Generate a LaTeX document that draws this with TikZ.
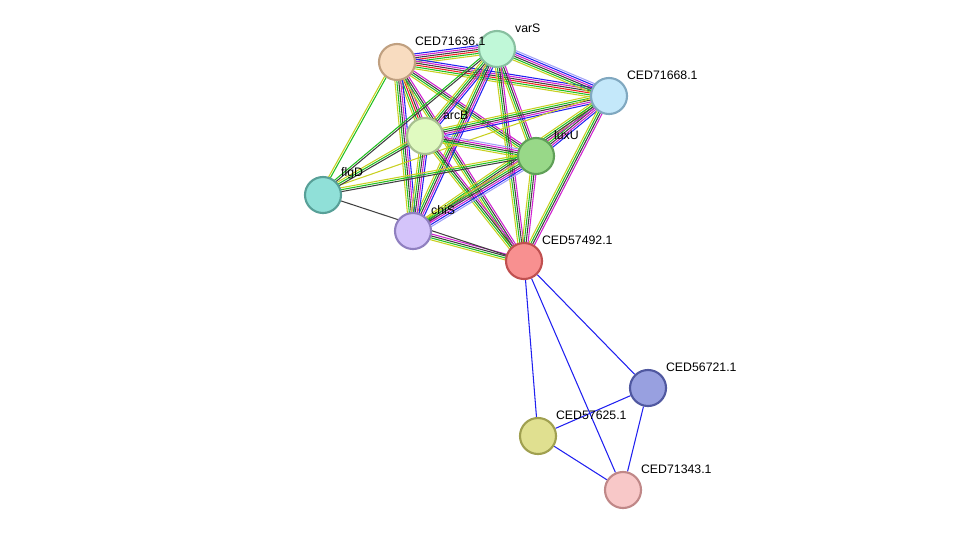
\documentclass[tikz,border=0pt]{standalone}
\usepackage{fontspec}
\setmainfont{Liberation Sans}
\usetikzlibrary{calc,backgrounds}
\definecolor{etxt}{HTML}{C8D020}
\definecolor{egrn}{HTML}{20C020}
\definecolor{eblk}{HTML}{404040}
\definecolor{emag}{HTML}{D020D0}
\definecolor{eblu}{HTML}{2020F0}
\definecolor{elbl}{HTML}{A0A0F8}
\definecolor{ered}{HTML}{F02020}
% node fill / border pairs
\definecolor{fA}{HTML}{F8DCC0}\definecolor{dA}{HTML}{C0A080}
\definecolor{fV}{HTML}{C0F8D8}\definecolor{dV}{HTML}{88C0A0}
\definecolor{fO}{HTML}{C4E8FA}\definecolor{dO}{HTML}{80A8C0}
\definecolor{fR}{HTML}{E0FAC0}\definecolor{dR}{HTML}{A8C090}
\definecolor{fL}{HTML}{98D888}\definecolor{dL}{HTML}{60A058}
\definecolor{fF}{HTML}{90E0D8}\definecolor{dF}{HTML}{58A098}
\definecolor{fC}{HTML}{D4C4FA}\definecolor{dC}{HTML}{9080C0}
\definecolor{fP}{HTML}{F89090}\definecolor{dP}{HTML}{C05050}
\definecolor{fB}{HTML}{98A0E0}\definecolor{dB}{HTML}{5058A0}
\definecolor{fK}{HTML}{E0E090}\definecolor{dK}{HTML}{A0A050}
\definecolor{fN}{HTML}{F8C8C8}\definecolor{dN}{HTML}{C08888}
\tikzset{
  prot/.style={circle, draw, line width=1.2pt, minimum size=20.5pt, inner sep=0pt},
  lbl/.style={font=\fontsize{7}{8}\selectfont, anchor=south west, inner sep=1pt},
}
% one line per evidence channel, side by side
\newcommand{\sedge}[3]{%
  \foreach \col [count=\k] in {#3} {%
    \pgfmathsetmacro\off{(\k-3)*1.1}
    \draw[\col, line width=0.6pt] ($(#1)!\off pt!90:(#2)$) -- ($(#2)!\off pt!-90:(#1)$);
  }}
\begin{document}
\begin{tikzpicture}[x=0.02cm, y=-0.02cm]
\useasboundingbox (0,0) rectangle (976,535);
%Nodes
\node[prot, fill=fA, draw=dA] (a71636) at (397,62) {};
\node[prot, fill=fV, draw=dV] (vars) at (497,49) {};
\node[prot, fill=fO, draw=dO] (a71668) at (609,96) {};
\node[prot, fill=fR, draw=dR] (arcb) at (425,136) {};
\node[prot, fill=fL, draw=dL] (luxu) at (536,156) {};
\node[prot, fill=fF, draw=dF] (flgd) at (323,195) {};
\node[prot, fill=fC, draw=dC] (chis) at (413,231) {};
\node[prot, fill=fP, draw=dP] (a57492) at (524,261) {};
\node[prot, fill=fB, draw=dB] (a56721) at (648,388) {};
\node[prot, fill=fK, draw=dK] (a57625) at (538,436) {};
\node[prot, fill=fN, draw=dN] (a71343) at (623,490) {};

%Labels
\node[lbl] at (413,48) {CED71636.1};
\node[lbl] at (513,35) {varS};
\node[lbl] at (625,82) {CED71668.1};
\node[lbl] at (441,122) {arcB};
\node[lbl] at (552,142) {luxU};
\node[lbl] at (339,181) {flgD};
\node[lbl] at (429,217) {chiS};
\node[lbl] at (540,247) {CED57492.1};
\node[lbl] at (664,374) {CED56721.1};
\node[lbl] at (554,422) {CED57625.1};
\node[lbl] at (639,476) {CED71343.1};

%Edges
\begin{scope}[on background layer]
\sedge{a71636}{vars}{etxt,egrn,ered,eblk,emag,eblu}
\sedge{a71636}{a71668}{etxt,egrn,ered,eblk,emag,eblu}
\sedge{a71636}{arcb}{etxt,egrn,ered,eblk,emag}
\sedge{a71636}{luxu}{etxt,egrn,eblk,emag}
\sedge{a71636}{chis}{etxt,egrn,eblk,emag,eblu}
\sedge{a71636}{a57492}{etxt,egrn,eblk,emag}
\sedge{a71636}{flgd}{etxt,egrn}
\sedge{vars}{a71668}{etxt,egrn,eblk,emag,eblu,elbl}
\sedge{vars}{arcb}{etxt,egrn,eblk,emag,eblu}
\sedge{vars}{luxu}{etxt,egrn,eblk,emag}
\sedge{vars}{chis}{etxt,egrn,eblk,emag,eblu}
\sedge{vars}{a57492}{etxt,egrn,eblk,emag}
\sedge{vars}{flgd}{egrn,eblk}
\sedge{a71668}{arcb}{etxt,egrn,eblk,emag,eblu}
\sedge{a71668}{luxu}{etxt,egrn,eblk,emag,eblu}
\sedge{a71668}{chis}{etxt,egrn,eblk,emag}
\sedge{a71668}{a57492}{etxt,egrn,eblk,emag}
\sedge{a71668}{flgd}{etxt}
\sedge{arcb}{luxu}{etxt,egrn,eblk,emag,elbl}
\sedge{arcb}{chis}{etxt,egrn,eblk,emag,eblu}
\sedge{arcb}{a57492}{etxt,egrn,eblk,emag}
\sedge{arcb}{flgd}{etxt,egrn,eblk}
\sedge{luxu}{chis}{etxt,egrn,eblk,emag,eblu,elbl}
\sedge{luxu}{a57492}{etxt,egrn,eblk,emag}
\sedge{luxu}{flgd}{etxt,egrn,eblk}
\sedge{chis}{a57492}{etxt,egrn,eblk,emag}
\draw[eblk, line width=0.6pt] (flgd) -- (a57492);
\draw[eblu, line width=0.6pt] (a57492) -- (a56721);
\draw[eblu, line width=0.6pt] (a57492) -- (a57625);
\draw[eblu, line width=0.6pt] (a57492) -- (a71343);
\draw[eblu, line width=0.6pt] (a56721) -- (a57625);
\draw[eblu, line width=0.6pt] (a56721) -- (a71343);
\draw[eblu, line width=0.6pt] (a57625) -- (a71343);
\end{scope}
\end{tikzpicture}
\end{document}
